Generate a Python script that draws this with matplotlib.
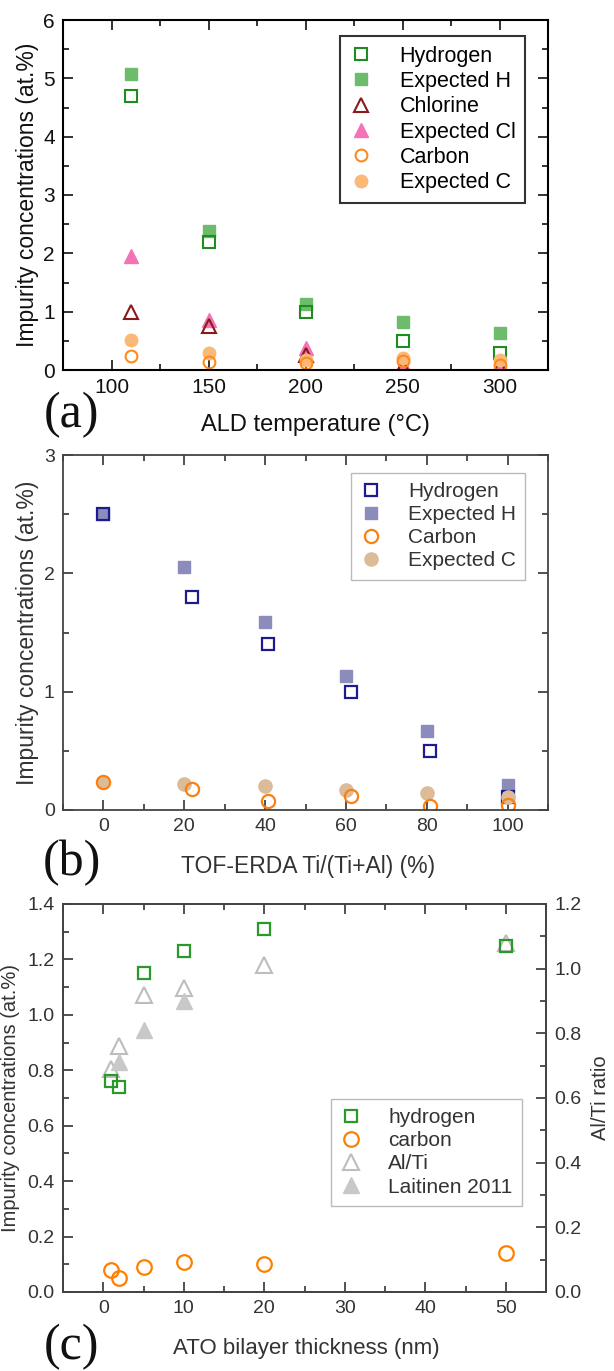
import matplotlib.pyplot as plt
from matplotlib.ticker import MultipleLocator

plt.rcParams['font.family'] = ['Liberation Sans', 'DejaVu Sans']

# (a) impurities vs ALD temperature
temp_a = [110, 150, 200, 250, 300]
h_meas_a = [4.7, 2.2, 1.0, 0.5, 0.3]
h_exp_a = [5.07, 2.39, 1.13, 0.82, 0.63]
cl_meas_a = [1.0, 0.75, 0.25, 0.05, 0.05]
cl_exp_a = [1.95, 0.85, 0.38, 0.1, 0.1]
c_meas_a = [0.24, 0.14, 0.12, 0.15, 0.08]
c_exp_a = [0.52, 0.3, 0.18, 0.2, 0.18]

# (b) impurities vs Ti fraction
ti_meas_b = [0, 21.8, 40.8, 61.3, 80.8, 100]
ti_exp_b = [0, 20, 40, 60, 80, 100]
h_meas_b = [2.5, 1.8, 1.4, 1.0, 0.5, 0.11]
h_exp_b = [2.5, 2.05, 1.59, 1.13, 0.67, 0.21]
c_meas_b = [0.24, 0.18, 0.08, 0.12, 0.03, 0.04]
c_exp_b = [0.24, 0.22, 0.2, 0.17, 0.14, 0.11]

# (c) impurities and Al/Ti vs bilayer thickness
thick_c = [1, 2, 5, 10, 20, 50]
h_c = [0.76, 0.74, 1.15, 1.23, 1.31, 1.25]
c_c = [0.08, 0.05, 0.09, 0.11, 0.10, 0.14]
alti_c = [0.69, 0.76, 0.92, 0.94, 1.01, 1.08]
lait_thick = [2, 5, 10]
lait_c = [0.71, 0.81, 0.90]

W, H = 614, 1371
fig = plt.figure(figsize=(W / 100, H / 100), dpi=100)


def box(left, top, right, bottom):
    return [left / W, 1 - bottom / H, (right - left) / W, (bottom - top) / H]


def style_ticks(ax, color, right=True):
    ax.tick_params(which='both', direction='in', top=True, right=right,
                   colors=color, labelcolor=color, labelsize=14, pad=6)
    ax.tick_params(which='major', length=7, width=1.2)
    ax.tick_params(which='minor', length=4, width=1.2)


# ---- panel (a)
ax = fig.add_axes(box(63, 20, 548, 370))
ax.plot(temp_a, h_exp_a, 's', ms=8.5, color='#6cbc6c', label='Expected H')
ax.plot(temp_a, h_meas_a, 's', ms=8.5, mfc='none', mec='#1f8c1f', mew=1.5, label='Hydrogen')
ax.plot(temp_a, cl_exp_a, '^', ms=10, color='#f472b6', label='Expected Cl')
ax.plot(temp_a, cl_meas_a, '^', ms=10, mfc='none', mec='#8b1a1a', mew=1.5, label='Chlorine')
ax.plot(temp_a, c_exp_a, 'o', ms=9, color='#fbb877', label='Expected C')
ax.plot(temp_a, c_meas_a, 'o', ms=8.5, mfc='none', mec='#ff8a1c', mew=1.5, label='Carbon')
ax.set_xlim(75, 325)
ax.set_ylim(0, 6)
ax.xaxis.set_major_locator(MultipleLocator(50))
ax.xaxis.set_minor_locator(MultipleLocator(25))
ax.yaxis.set_major_locator(MultipleLocator(1))
ax.yaxis.set_minor_locator(MultipleLocator(0.5))
for s in ax.spines.values():
    s.set_linewidth(1.5)
style_ticks(ax, '#111111')
ax.tick_params(labelsize=15)
ax.set_xlabel('ALD temperature (°C)', fontsize=17, color='#111111')
ax.set_ylabel('Impurity concentrations (at.%)', fontsize=16.5, color='#111111')
ax.xaxis.set_label_coords(0.52, -0.125)
ax.yaxis.set_label_coords(-0.05, 0.5)
hd, lb = ax.get_legend_handles_labels()
order = [1, 0, 3, 2, 5, 4]
leg = ax.legend([hd[i] for i in order], [lb[i] for i in order], loc='upper right',
                bbox_to_anchor=(0.975, 0.985), fontsize=15.5, frameon=True, fancybox=False,
                edgecolor='black', labelspacing=0.2, handlelength=1.0,
                handletextpad=1.3, borderpad=0.45)
leg.get_frame().set_linewidth(1.5)

# ---- panel (b)
grey = '#444444'
ax = fig.add_axes(box(63, 455, 548, 810))
ax.plot(ti_exp_b, h_exp_b, 's', ms=9, color='#8c8cbc', label='Expected H')
ax.plot(ti_meas_b, h_meas_b, 's', ms=9, mfc='none', mec='#1c1c8e', mew=1.6, label='Hydrogen')
ax.plot(ti_exp_b, c_exp_b, 'o', ms=9.5, color='#dbbb98', label='Expected C')
ax.plot(ti_meas_b, c_meas_b, 'o', ms=9.5, mfc='none', mec='#ff7f0e', mew=1.6, label='Carbon')
ax.set_xlim(-10, 110)
ax.set_ylim(0, 3)
ax.xaxis.set_major_locator(MultipleLocator(20))
ax.xaxis.set_minor_locator(MultipleLocator(10))
ax.yaxis.set_major_locator(MultipleLocator(1))
ax.yaxis.set_minor_locator(MultipleLocator(0.5))
for s in ax.spines.values():
    s.set_linewidth(1.3)
    s.set_color(grey)
style_ticks(ax, '#333333')
ax.set_xlabel('TOF-ERDA Ti/(Ti+Al) (%)', fontsize=16.5, color='#333333')
ax.set_ylabel('Impurity concentrations (at.%)', fontsize=16.5, color='#333333')
ax.xaxis.set_label_coords(0.505, -0.127)
ax.yaxis.set_label_coords(-0.05, 0.5)
hd, lb = ax.get_legend_handles_labels()
order = [1, 0, 3, 2]
leg = ax.legend([hd[i] for i in order], [lb[i] for i in order], loc='upper right',
                bbox_to_anchor=(0.975, 0.98), fontsize=15, frameon=True, fancybox=False,
                edgecolor='#aaaaaa', labelspacing=0.2, handlelength=1.0,
                handletextpad=1.3, borderpad=0.45)
for t in leg.get_texts():
    t.set_color('#333333')

# ---- panel (c)
ax = fig.add_axes(box(63, 904, 546, 1292))
ax2 = ax.twinx()
ax.plot(thick_c, h_c, 's', ms=9, mfc='none', mec='#2a982a', mew=1.6, label='hydrogen', zorder=3)
ax.plot(thick_c, c_c, 'o', ms=10.5, mfc='none', mec='#ff8000', mew=1.6, label='carbon', zorder=3)
ax2.plot(thick_c, alti_c, '^', ms=11, mfc='none', mec='#bdbdbd', mew=1.5, label='Al/Ti', zorder=1)
ax2.plot(lait_thick, lait_c, '^', ms=11, color='#c8c8c8', label='Laitinen 2011', zorder=1)
ax.set_zorder(ax2.get_zorder() + 1)
ax.patch.set_visible(False)
ax.set_xlim(-5, 55)
ax.set_ylim(0, 1.4)
ax2.set_ylim(0, 1.2)
ax.xaxis.set_major_locator(MultipleLocator(10))
ax.xaxis.set_minor_locator(MultipleLocator(5))
ax.yaxis.set_major_locator(MultipleLocator(0.2))
ax.yaxis.set_minor_locator(MultipleLocator(0.1))
ax2.yaxis.set_major_locator(MultipleLocator(0.2))
ax2.yaxis.set_minor_locator(MultipleLocator(0.1))
ax.yaxis.set_major_formatter('{x:.1f}')
ax2.yaxis.set_major_formatter('{x:.1f}')
for a in (ax, ax2):
    for s in a.spines.values():
        s.set_linewidth(1.3)
        s.set_color(grey)
style_ticks(ax, '#333333', right=False)
ax2.tick_params(which='both', direction='in', colors='#333333', labelcolor='#333333',
                labelsize=14, pad=6)
ax2.tick_params(which='major', length=7, width=1.2)
ax2.tick_params(which='minor', length=4, width=1.2)
ax.set_xlabel('ATO bilayer thickness (nm)', fontsize=16, color='#333333')
ax.set_ylabel('Impurity concentrations (at.%)', fontsize=14.5, color='#333333')
ax2.set_ylabel('Al/Ti ratio', fontsize=14.5, color='#333333')
ax.xaxis.set_label_coords(0.503, -0.119)
ax.yaxis.set_label_coords(-0.088, 0.5)
ax2.yaxis.set_label_coords(1.093, 0.5)
h1, l1 = ax.get_legend_handles_labels()
h2, l2 = ax2.get_legend_handles_labels()
leg = ax.legend(h1 + h2, l1 + l2, loc='upper right', bbox_to_anchor=(0.972, 0.525),
                fontsize=15, frameon=True, fancybox=False, edgecolor='#aaaaaa',
                labelspacing=0.2, handlelength=1.0, handletextpad=1.3, borderpad=0.45)
for t in leg.get_texts():
    t.set_color('#333333')

# panel letters
for letter, y in (('(a)', 415), ('(b)', 863), ('(c)', 1347)):
    fig.text(72 / W, 1 - y / H, letter, family=['Liberation Serif', 'DejaVu Serif'],
             fontsize=36, ha='center', va='center', color='#111111')

fig.savefig('out.png', dpi=100)
